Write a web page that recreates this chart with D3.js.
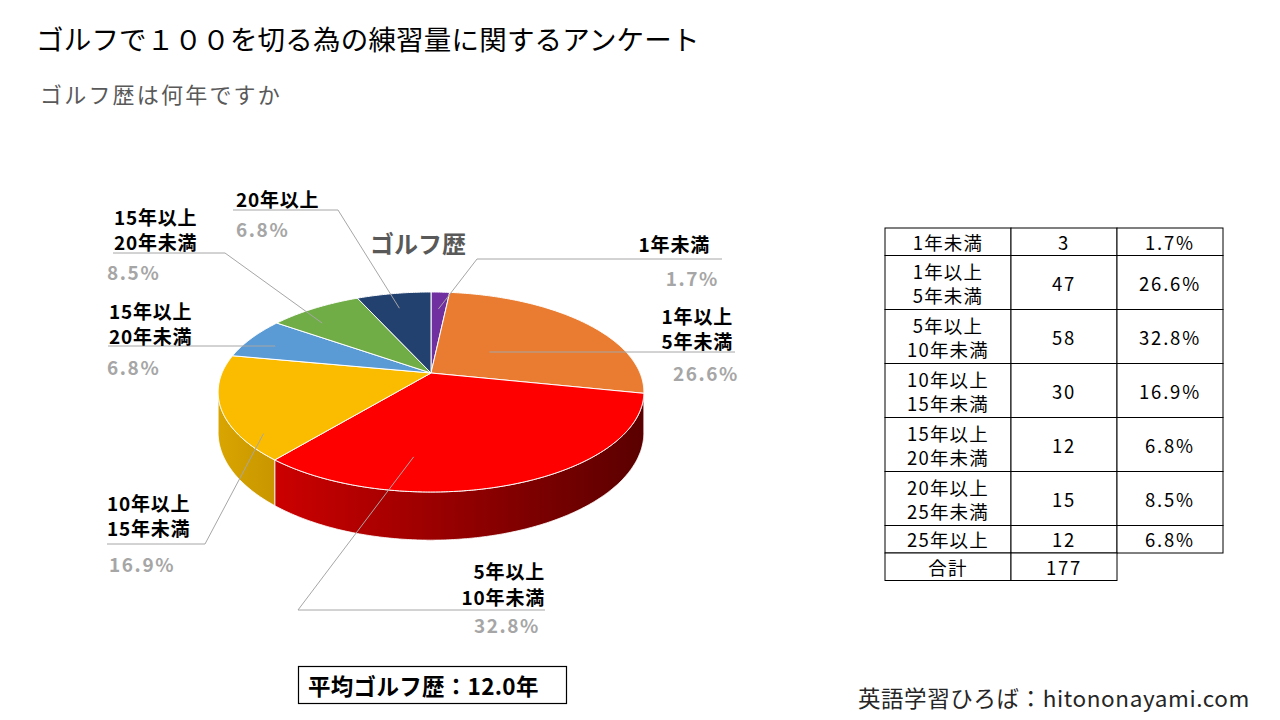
<!DOCTYPE html>
<html>
<head>
<meta charset="utf-8">
<script src="https://cdn.jsdelivr.net/npm/d3@7"></script>
<style>
  body { margin: 0; background: #fff; }
  text { font-family: "Noto Sans CJK JP", "Noto Sans", sans-serif; }
</style>
</head>
<body>
<div id="chart"></div>
<script>
// data
const categories = ["1年未満", "1年以上\n5年未満", "5年以上\n10年未満", "10年以上\n15年未満",
                    "15年以上\n20年未満", "20年以上\n25年未満", "25年以上"];
const counts = [3, 47, 58, 30, 12, 15, 12];
const percents = ["1.7%", "26.6%", "32.8%", "16.9%", "6.8%", "8.5%", "6.8%"];
// labels as printed on the pie itself
const pieLabels = ["1年未満", "1年以上\n5年未満", "5年以上\n10年未満", "10年以上\n15年未満",
                   "15年以上\n20年未満", "15年以上\n20年未満", "20年以上"];
const sliceColors = ["#7030a0", "#e97c30", "#ff0000", "#fbbc00", "#5b9bd5", "#70ad47", "#22416f"];
const total = 177;
const averageText = "平均ゴルフ歴：12.0年";

const W = 1280, H = 720;
const svg = d3.select("#chart").append("svg").attr("width", W).attr("height", H);

// titles
svg.append("text").attr("x", 36).attr("y", 38).attr("dominant-baseline", "central")
  .attr("font-size", 27.5).attr("letter-spacing", 0.2).attr("fill", "#000").text("ゴルフで１００を切る為の練習量に関するアンケート");
svg.append("text").attr("x", 40).attr("y", 93).attr("dominant-baseline", "central")
  .attr("font-size", 22).attr("letter-spacing", 2.2).attr("fill", "#595959").text("ゴルフ歴は何年ですか");

// 3D pie projection (perspective, viewed from above-front)
const cx = 431, kx = 209, pa = 25.52, pb = 373, pc = -0.19, depth = 39;
function proj(theta, r, z) {
  const u = r * Math.sin(theta), v = -r * Math.cos(theta);
  const D = 1 + pc * v;
  return [cx + kx * u / D, (pa * v + pb) / D + z * depth / D];
}
function arcPts(a0, a1, r, z) {
  const n = Math.max(2, Math.ceil((a1 - a0) / 0.01));
  return d3.range(n + 1).map(i => proj(a0 + (a1 - a0) * i / n, r, z));
}
const line = d3.line();

const arcs = d3.pie().sort(null).value(d => d)(counts);

// side gradients
const defs = svg.append("defs");
function grad(id, c0, c1) {
  const g = defs.append("linearGradient").attr("id", id).attr("x1", "0").attr("x2", "1").attr("y1", "0").attr("y2", "0");
  g.append("stop").attr("offset", "0").attr("stop-color", c0);
  g.append("stop").attr("offset", "1").attr("stop-color", c1);
}
grad("side2", "#cc0000", "#5a0000");
grad("side3", "#d8a500", "#c99600");

// visible side range: silhouette where cos(theta) = pc
const sideA0 = Math.acos(pc), sideA1 = 2 * Math.PI - Math.acos(pc);
const sideFill = i => i === 2 ? "url(#side2)" : i === 3 ? "url(#side3)" : d3.color(sliceColors[i]).darker(0.6);

const gSide = svg.append("g");
arcs.forEach((d, i) => {
  const a0 = Math.max(d.startAngle, sideA0), a1 = Math.min(d.endAngle, sideA1);
  if (a1 <= a0) return;
  const top = arcPts(a0, a1, 1, 0), bot = arcPts(a0, a1, 1, 1).reverse();
  gSide.append("path").attr("d", line(top.concat(bot)) + "Z")
    .attr("fill", sideFill(i)).attr("stroke", "#fff").attr("stroke-width", 0.8);
});

const gTop = svg.append("g");
arcs.forEach((d, i) => {
  const pts = [proj(0, 0, 0)].concat(arcPts(d.startAngle, d.endAngle, 1, 0));
  gTop.append("path").attr("d", line(pts) + "Z")
    .attr("fill", sliceColors[i]).attr("stroke", "#fff").attr("stroke-width", 1).attr("stroke-linejoin", "round");
});

// chart title
svg.append("text").attr("x", 418).attr("y", 242).attr("text-anchor", "middle").attr("dominant-baseline", "central")
  .attr("font-size", 24).attr("font-weight", "bold").attr("fill", "#595959").text("ゴルフ歴");

// data labels: anchor (fraction within slice, radius), elbow, text block
const labelLayout = [
  { f: 0.5,  r: 0.76, elbow: [477, 259], end: [722, 259], tx: 710, anchor: "end", ty: [243], py: 277, px: 719 },
  { f: 0.48, r: 0.37, elbow: [490, 352], end: [735, 352], tx: 733, anchor: "end", ty: [315, 340], py: 372, px: 739 },
  { f: 0.71, r: 0.75, elbow: [298, 610], end: [545, 610], tx: 545, anchor: "end", ty: [570, 596], py: 624, px: 540 },
  { f: 0.2,  r: 0.91, elbow: [205, 544], end: [107, 544], tx: 107, anchor: "start", ty: [502, 527], py: 563, px: 109 },
  { f: 0.4,  r: 0.84, elbow: [275, 346], end: [108, 346], tx: 109, anchor: "start", ty: [310, 335], py: 366, px: 107 },
  { f: 0.32, r: 0.815, elbow: [225, 253], end: [113, 253], tx: 114, anchor: "start", ty: [216.5, 241.5], py: 271, px: 107 },
  { f: 0.48, r: 0.79, elbow: [338, 210], end: [233, 210], tx: 236, anchor: "start", ty: [198], py: 228, px: 236 }
];
const gLab = svg.append("g");
arcs.forEach((d, i) => {
  const L = labelLayout[i];
  const p = proj(d.startAngle + (d.endAngle - d.startAngle) * L.f, L.r, 0);
  gLab.append("path").attr("d", line([p, L.elbow, L.end]))
    .attr("fill", "none").attr("stroke", "#a6a6a6").attr("stroke-width", 1);
  pieLabels[i].split("\n").forEach((s, j) => {
    gLab.append("text").attr("x", L.tx).attr("y", L.ty[j]).attr("text-anchor", L.anchor)
      .attr("dominant-baseline", "central").attr("font-size", 19).attr("letter-spacing", 0.8)
      .attr("font-weight", "bold").attr("fill", "#000").text(s);
  });
  gLab.append("text").attr("x", L.px).attr("y", L.py).attr("text-anchor", L.anchor)
    .attr("dominant-baseline", "central").attr("font-size", 19).attr("letter-spacing", 1.6)
    .attr("font-weight", "bold").attr("fill", "#a6a6a6").text(percents[i]);
});

// table
const colX = [885, 1011, 1117, 1223];
const rowH = categories.map(c => c.includes("\n") ? 54 : 27.5);
const rowY = [228];
rowH.forEach(h => rowY.push(rowY[rowY.length - 1] + h));
const gT = svg.append("g").attr("font-size", 18.5).attr("fill", "#000");
function cell(x0, x1, y0, y1, txt) {
  gT.append("rect").attr("x", x0).attr("y", y0).attr("width", x1 - x0).attr("height", y1 - y0)
    .attr("fill", "#fff").attr("stroke", "#000").attr("stroke-width", 1);
  const lines = String(txt).split("\n");
  lines.forEach((s, j) => {
    gT.append("text").attr("x", (x0 + x1) / 2).attr("y", (y0 + y1) / 2 + (j - (lines.length - 1) / 2) * 24)
      .attr("text-anchor", "middle").attr("dominant-baseline", "central")
      .attr("letter-spacing", /%|^\d+$/.test(s) ? 1.8 : 1.2).text(s);
  });
}
categories.forEach((c, i) => {
  cell(colX[0], colX[1], rowY[i], rowY[i + 1], c);
  cell(colX[1], colX[2], rowY[i], rowY[i + 1], counts[i]);
  cell(colX[2], colX[3], rowY[i], rowY[i + 1], percents[i]);
});
const lastY = rowY[rowY.length - 1];
cell(colX[0], colX[1], lastY, lastY + 27.5, "合計");
cell(colX[1], colX[2], lastY, lastY + 27.5, total);

// average box
svg.append("rect").attr("x", 298.5).attr("y", 666.5).attr("width", 268).attr("height", 37)
  .attr("fill", "#fff").attr("stroke", "#000").attr("stroke-width", 1.2);
svg.append("text").attr("x", 308).attr("y", 685).attr("dominant-baseline", "central")
  .attr("font-size", 22.5).attr("letter-spacing", 0.3).attr("font-weight", "bold").attr("fill", "#000").text(averageText);

// footer
svg.append("text").attr("x", 1250).attr("y", 697).attr("text-anchor", "end").attr("dominant-baseline", "central")
  .attr("font-size", 22.5).attr("letter-spacing", 0.6).attr("fill", "#262626").text("英語学習ひろば：hitononayami.com");
</script>
</body>
</html>
